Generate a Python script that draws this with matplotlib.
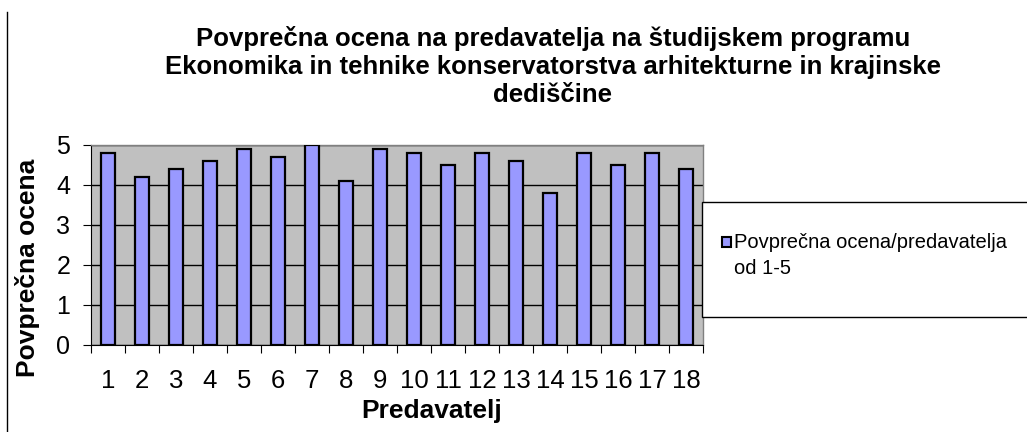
import matplotlib
matplotlib.use("Agg")
import matplotlib.pyplot as plt
from matplotlib.patches import Rectangle
from matplotlib.lines import Line2D

plt.rcParams['font.family'] = ['Liberation Sans', 'DejaVu Sans']

categories = [str(i) for i in range(1, 19)]
values = [4.8, 4.2, 4.4, 4.6, 4.9, 4.7, 5.0, 4.1, 4.9, 4.8, 4.5, 4.8, 4.6, 3.8, 4.8, 4.5, 4.8, 4.4]
yticks = [0, 1, 2, 3, 4, 5]
title = ("Povprečna ocena na predavatelja na študijskem programu\n"
         "Ekonomika in tehnike konservatorstva arhitekturne in krajinske\n"
         "dediščine")
series_label = "Povprečna ocena/predavatelja\nod 1-5"
bar_color = '#9999FF'

W, H = 1027, 432
fig = plt.figure(figsize=(W / 100, H / 100), dpi=100)
ax = fig.add_axes([91 / W, (H - 345) / H, 612 / W, 200 / H])
ax.set_facecolor('#C0C0C0')

x = list(range(len(categories)))
bars = ax.bar(x, values, width=0.42, color=bar_color, edgecolor='black',
              linewidth=1.6, zorder=3, label=series_label)
ax.set_xlim(-0.5, len(categories) - 0.5)
ax.set_ylim(0, 5)
ax.set_yticks(yticks)
ax.set_yticklabels([str(t) for t in yticks], fontsize=18)
ax.yaxis.grid(True, color='black', linewidth=1.0, zorder=1)
ax.set_axisbelow(True)

ax.set_xticks([i - 0.5 for i in range(len(categories) + 1)], minor=False)
ax.set_xticklabels([])
ax.set_xticks(x, minor=True)
ax.set_xticklabels(categories, minor=True, fontsize=18.5)
ax.tick_params(axis='x', which='major', length=6, direction='out', color='black')
ax.tick_params(axis='x', which='minor', length=0, pad=17)
ax.tick_params(axis='y', length=6, direction='out', pad=9)

for s in ['top', 'right']:
    ax.spines[s].set_color('#808080')
    ax.spines[s].set_linewidth(1.0)
ax.spines['left'].set_color('black')
ax.spines['bottom'].set_color('black')

fig.text(28 / W, 1 - 268 / H, 'Povprečna ocena', rotation=90, ha='center',
         va='center', fontsize=19, fontweight='bold')
fig.text(432 / W, 1 - 411 / H, 'Predavatelj', ha='center', va='center',
         fontsize=19, fontweight='bold')

fig.text(553 / W, 1 - 26 / H, title, ha='center', va='top', fontsize=18.5,
         fontweight='bold', linespacing=1.2)

# legend box
fig.patches.append(Rectangle((702 / W, (H - 317) / H), 400 / W, 115 / H,
                             transform=fig.transFigure, facecolor='white',
                             edgecolor='black', linewidth=1.0, zorder=5))
fig.patches.append(Rectangle((722 / W, (H - 247) / H), 9 / W, 10 / H,
                             transform=fig.transFigure, facecolor=bar_color,
                             edgecolor='black', linewidth=1.5, zorder=6))
fig.text(734 / W, 1 - 233 / H, series_label, ha='left', va='top',
         fontsize=14.5, linespacing=1.45, zorder=7)

# left chart border
fig.add_artist(Line2D([7 / W, 7 / W], [0, 1 - 12 / H], transform=fig.transFigure,
                      color='black', linewidth=1.0))

fig.savefig('out.png', dpi=100)
